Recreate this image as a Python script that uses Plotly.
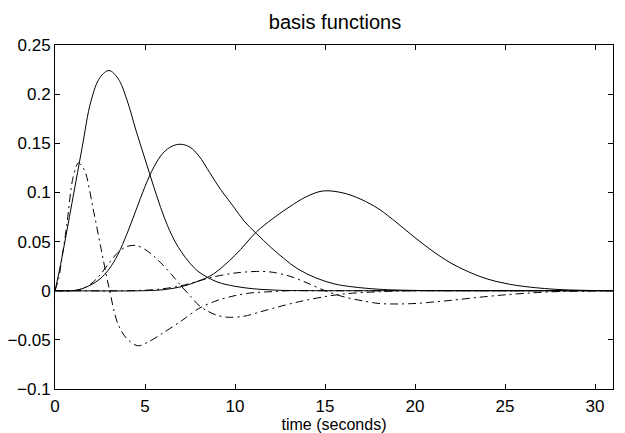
import plotly.graph_objects as go

# solid curves
t1 = [0, 0.25, 0.5, 1, 1.5, 2, 2.5, 3, 3.5, 4, 4.5, 5, 5.5, 6, 6.5, 7, 7.5, 8, 9, 10, 11, 12, 13, 15, 20, 25, 31]
y1 = [0, 0.021, 0.045, 0.095, 0.145, 0.193, 0.217, 0.224, 0.216, 0.194, 0.163, 0.134, 0.105, 0.078, 0.056, 0.04,
      0.028, 0.019, 0.009, 0.0045, 0.002, 0.0008, 0.0002, 0, 0, 0, 0]

t2 = [0, 1, 1.5, 2, 2.5, 3, 3.5, 4, 4.5, 5, 5.5, 6, 6.5, 7, 7.5, 8, 8.6, 9.2, 9.9, 10.5, 11.2, 12, 12.7, 13.5,
      14.5, 15.5, 16.5, 18, 20, 25, 31]
y2 = [0, 0, 0.002, 0.006, 0.012, 0.022, 0.037, 0.058, 0.082, 0.106, 0.126, 0.140, 0.147, 0.149, 0.146, 0.137,
      0.12, 0.103, 0.086, 0.071, 0.058, 0.044, 0.033, 0.022, 0.013, 0.007, 0.004, 0.0015, 0.0003, 0, 0]

t3 = [0, 5, 6, 7, 8, 8.8, 10, 11.2, 12, 13, 14, 14.9, 16, 17, 18, 19, 20, 21, 22, 23, 24, 25, 26, 28, 31]
y3 = [0, 0, 0.001, 0.004, 0.010, 0.017, 0.036, 0.06, 0.072, 0.085, 0.096, 0.1015, 0.0995, 0.093, 0.083, 0.069,
      0.054, 0.04, 0.028, 0.019, 0.012, 0.0075, 0.0045, 0.0012, 0]

# dash-dot curves
tA = [0, 0.2, 0.4, 0.65, 1.0, 1.3, 1.65, 2.1, 2.6, 3.0, 3.5, 4, 4.6, 5.2, 6, 7, 8, 9, 10, 11, 12, 13, 15, 20, 25, 31]
yA = [0, 0.012, 0.035, 0.066, 0.115, 0.130, 0.122, 0.085, 0.039, 0.003, -0.034, -0.049, -0.056, -0.052, -0.043,
      -0.031, -0.018, -0.010, -0.005, -0.002, -0.001, 0, 0, 0, 0, 0]

tB = [0, 1, 1.5, 2, 2.5, 3, 3.5, 4, 4.5, 5, 5.5, 6, 6.5, 7, 7.5, 8, 8.5, 9, 9.6, 10.5, 11.5, 12.5, 13.6, 15, 16.2,
      18, 20, 25, 31]
yB = [0, 0, 0.002, 0.007, 0.016, 0.028, 0.039, 0.045, 0.046, 0.042, 0.035, 0.026, 0.016, 0.005, -0.005, -0.015,
      -0.021, -0.025, -0.027, -0.026, -0.021, -0.016, -0.011, -0.006, -0.003, -0.001, 0, 0, 0]

tC = [0, 4, 5, 6, 7, 8, 8.8, 10, 11.2, 12, 13, 14, 15, 16, 17, 18, 19, 20, 21, 22, 23.6, 25, 26.5, 28, 30, 31]
yC = [0, 0, 0.0005, 0.002, 0.005, 0.010, 0.014, 0.018, 0.0196, 0.019, 0.015, 0.008, 0.0, -0.006, -0.010, -0.013,
      -0.0135, -0.013, -0.0115, -0.0098, -0.0066, -0.0042, -0.0022, -0.0008, -0.0002, 0]

x_ticks = [0, 5, 10, 15, 20, 25, 30]
y_ticks = [-0.1, -0.05, 0, 0.05, 0.1, 0.15, 0.2, 0.25]
y_labels = ["\u22120.1", "\u22120.05", "0", "0.05", "0.1", "0.15", "0.2", "0.25"]

font = "Liberation Sans, Arial, sans-serif"

fig = go.Figure()
for t, y in [(t1, y1), (t2, y2), (t3, y3)]:
    fig.add_trace(go.Scatter(x=t, y=y, mode="lines",
                             line=dict(color="black", width=1, shape="spline", smoothing=1.0)))
for t, y in [(tA, yA), (tB, yB), (tC, yC)]:
    fig.add_trace(go.Scatter(x=t, y=y, mode="lines",
                             line=dict(color="black", width=1, shape="spline", smoothing=0.9,
                                       dash="8px,4px,2px,4px")))

# the page body keeps its 8px margin, so the figure is drawn 8px smaller
fig.update_layout(
    width=617,
    height=425,
    paper_bgcolor="white",
    plot_bgcolor="white",
    showlegend=False,
    margin=dict(l=47, r=12, t=37, b=44, autoexpand=False),
    font=dict(family=font, size=17, color="black"),
    title=dict(text="basis functions", x=0.530, xanchor="center", y=0.967, yanchor="middle",
               yref="container", font=dict(size=20, family=font, color="black")),
    xaxis=dict(
        range=[0, 31],
        tickvals=x_ticks,
        ticks="inside",
        ticklen=5,
        tickcolor="black",
        ticklabelstandoff=2,
        showline=True,
        linecolor="black",
        linewidth=1,
        mirror="ticks",
        showgrid=False,
        zeroline=False,
        automargin=False,
        title=dict(text="time (seconds)", standoff=0, font=dict(size=16)),
    ),
    yaxis=dict(
        range=[-0.1, 0.25],
        tickvals=y_ticks,
        ticktext=y_labels,
        ticks="inside",
        ticklen=5,
        tickcolor="black",
        showline=True,
        linecolor="black",
        linewidth=1,
        mirror="ticks",
        showgrid=False,
        zeroline=False,
        automargin=False,
    ),
)

fig.write_html("out.html")
